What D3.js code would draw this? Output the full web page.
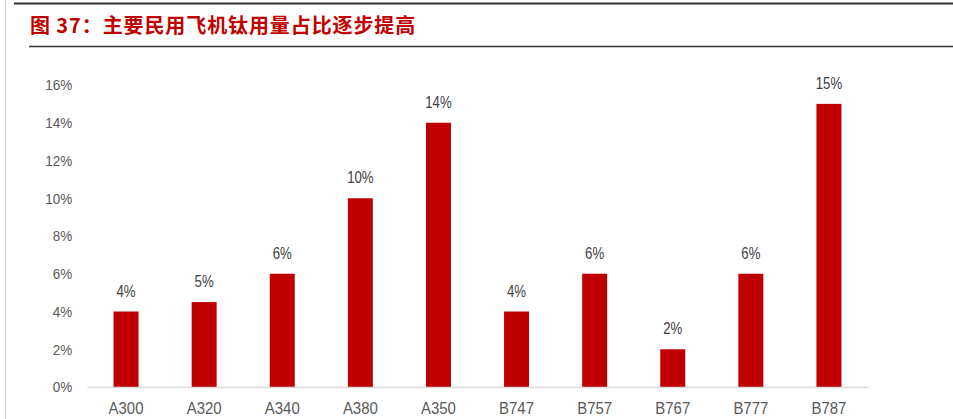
<!DOCTYPE html>
<html><head><meta charset="utf-8">
<script src="https://cdn.jsdelivr.net/npm/d3@7"></script>
<style>
html,body{margin:0;padding:0;background:#fff;}
svg{display:block;}
</style></head>
<body>
<svg id="c" width="953" height="419"></svg>
<script>
const title = "图 37：主要民用飞机钛用量占比逐步提高";
const categories = ["A300","A320","A340","A380","A350","B747","B757","B767","B777","B787"];
const values = [4, 4.5, 6, 10, 14, 4, 6, 2, 6, 15];
const valueLabels = ["4%","5%","6%","10%","14%","4%","6%","2%","6%","15%"];
const yTicks = [0,2,4,6,8,10,12,14,16];

const svg = d3.select("#c");
const W = 953, H = 419;
const FONT = "'Liberation Sans', Arial, sans-serif";
const m = {left: 87, right: 85, top: 85, bottom: 32};
const x = d3.scaleBand().domain(categories).range([m.left, W - m.right]).paddingInner(0.68).paddingOuter(0.34);
const y = d3.scaleLinear().domain([0,16]).range([H - m.bottom, m.top]);

// frame lines
svg.append("line").attr("x1",5.5).attr("x2",5.5).attr("y1",0).attr("y2",H).attr("stroke","#d0d0d0").attr("stroke-width",1);
svg.append("line").attr("x1",14).attr("x2",W).attr("y1",3.5).attr("y2",3.5).attr("stroke","#333").attr("stroke-width",2);
svg.append("line").attr("x1",29).attr("x2",W).attr("y1",46.5).attr("y2",46.5).attr("stroke","#333").attr("stroke-width",1.5);

svg.append("text").attr("x",30).attr("y",33).text(title)
  .attr("fill","#c00000").attr("font-family","'Noto Sans CJK SC', sans-serif")
  .attr("font-weight","bold").attr("font-size",20).attr("letter-spacing",0.9);

// y axis
const ya = svg.append("g").attr("transform",`translate(${m.left},0)`)
  .call(d3.axisLeft(y).tickValues(yTicks).tickFormat(d=>d+"%").tickSize(0).tickPadding(16.5));
ya.select(".domain").remove();
ya.selectAll("text").attr("font-family",FONT).attr("font-size",15).attr("fill","#595959")
  .attr("transform","scale(0.9,1)");

// bars
svg.append("g").selectAll("rect").data(categories).join("rect")
  .attr("x", d=>x(d)).attr("width", x.bandwidth())
  .attr("y", (d,i)=>y(values[i])).attr("height", (d,i)=>y(0)-y(values[i]))
  .attr("fill","#c00000");

// value labels
svg.append("g").selectAll("text").data(categories).join("text")
  .attr("transform", (d,i)=>`translate(${x(d)+x.bandwidth()/2},${y(values[i]) - 15}) scale(0.8,1)`)
  .attr("text-anchor","middle").text((d,i)=>valueLabels[i])
  .attr("font-family",FONT).attr("font-size",16.5).attr("fill","#404040");

// x axis
const xa = svg.append("g").attr("transform",`translate(0,${y(0)})`)
  .call(d3.axisBottom(x).tickSize(0));
xa.select(".domain").attr("stroke","#d9d9d9").attr("stroke-width",1.5);
xa.selectAll("text").attr("font-family",FONT).attr("font-size",17).attr("fill","#595959")
  .attr("y",27).attr("dy",0).attr("transform","scale(0.88,1)");
</script>
</body></html>
